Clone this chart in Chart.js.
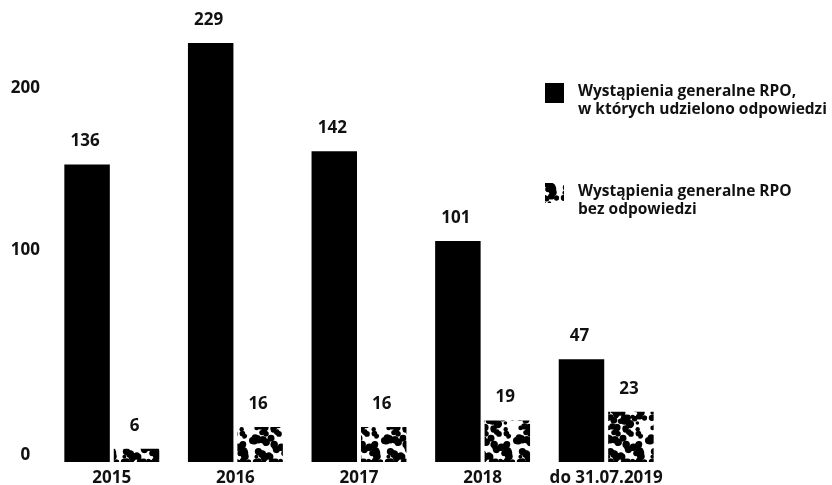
<!DOCTYPE html>
<html lang="pl">
<head>
<meta charset="UTF-8">
<meta name="viewport" content="width=device-width, initial-scale=1.0">
<title>Wystąpienia generalne RPO</title>
<script src="https://cdn.jsdelivr.net/npm/chart.js"></script>
<style>
  body { margin: 0; background: #fff; }
  #wrap { width: 832px; height: 485px; position: relative; }
</style>
</head>
<body>
<div id="wrap"><canvas id="rpoChart"></canvas></div>
<script>
// categories and values
const years = ['2015', '2016', '2017', '2018', 'do 31.07.2019'];
const answered = [136, 229, 142, 101, 47];
const unanswered = [6, 16, 16, 19, 23];
const answeredLines = ['Wystąpienia generalne RPO,', 'w których udzielono odpowiedzi'];
const unansweredLines = ['Wystąpienia generalne RPO', 'bez odpowiedzi'];
// y labels and the values where they sit in the original (axis is broken above)
const yTickLabels = ['0', '100', '200'];
const yTickValues = [3, 97, 171];

const FONT = '"Open Sans", "DejaVu Sans", sans-serif';
const INK = '#111';

const ctx = document.getElementById('rpoChart').getContext('2d');

// black dots on white, like the second series in the original
function makeDots() {
    const size = 44;
    const c = document.createElement('canvas');
    c.width = size; c.height = size;
    const g = c.getContext('2d');
    g.fillStyle = '#fff';
    g.fillRect(0, 0, size, size);
    g.fillStyle = '#000';
    let s = 11;
    const rnd = () => { s = (s * 16807) % 2147483647; return s / 2147483647; };
    for (let i = 0; i < 62; i++) {
        const x = rnd() * size, y = rnd() * size, r = 1.8 + rnd() * 2.4;
        for (const dx of [-size, 0, size]) {
            for (const dy of [-size, 0, size]) {
                g.beginPath();
                g.arc(x + dx, y + dy, r, 0, Math.PI * 2);
                g.fill();
            }
        }
    }
    return ctx.createPattern(c, 'repeat');
}
const dots = makeDots();

// numbers above the bars
const valueLabels = {
    id: 'valueLabels',
    afterDatasetsDraw(chart) {
        const g = chart.ctx;
        const top = chart.chartArea.top;
        g.save();
        g.font = 'bold 17px ' + FONT;
        g.fillStyle = INK;
        g.textAlign = 'center';
        g.textBaseline = 'middle';
        chart.data.datasets.forEach((ds, i) => {
            chart.getDatasetMeta(i).data.forEach((bar, j) => {
                g.fillText(String(ds.data[j]), bar.x - 2, Math.max(bar.y, top) - 23);
            });
        });
        g.restore();
    }
};

// two-line legend on the right
const sideLegend = {
    id: 'sideLegend',
    afterDraw(chart) {
        const g = chart.ctx;
        const x = 545, tops = [83, 183];
        g.save();
        g.font = 'bold 15.5px ' + FONT;
        g.textAlign = 'left';
        g.textBaseline = 'middle';
        chart.data.datasets.forEach((ds, i) => {
            g.fillStyle = ds.backgroundColor;
            g.fillRect(x, tops[i], 19, 20);
            g.fillStyle = INK;
            ds.legendLines.forEach((line, k) => {
                g.fillText(line, x + 33, tops[i] + 9 + k * 18);
            });
        });
        g.restore();
    }
};

new Chart(ctx, {
    type: 'bar',
    data: {
        labels: years,
        datasets: [{
            label: answeredLines.join(' '),
            legendLines: answeredLines,
            data: answered,
            backgroundColor: '#000',
            categoryPercentage: 0.8,
            barPercentage: 0.92,
            clip: 0
        }, {
            label: unansweredLines.join(' '),
            legendLines: unansweredLines,
            data: unanswered,
            backgroundColor: dots,
            categoryPercentage: 0.8,
            barPercentage: 0.92,
            clip: 0
        }]
    },
    options: {
        responsive: true,
        maintainAspectRatio: false,
        animation: false,
        layout: { padding: { top: 43, right: 164, left: 0, bottom: 0 } },
        plugins: {
            legend: { display: false },
            tooltip: { enabled: false }
        },
        scales: {
            x: {
                grid: { display: false, drawTicks: false },
                border: { display: false },
                ticks: { color: INK, padding: 6, font: { family: FONT, size: 17, weight: 'bold' } },
                afterFit: s => { s.height = 23; }
            },
            y: {
                min: 0,
                max: 191.5,
                grid: { display: false, drawTicks: false },
                border: { display: false },
                afterBuildTicks: s => { s.ticks = yTickValues.map(v => ({ value: v })); },
                ticks: {
                    color: INK,
                    padding: 10,
                    crossAlign: 'center',
                    autoSkip: false,
                    font: { family: FONT, size: 17, weight: 'bold' },
                    callback: (v, i) => yTickLabels[i]
                },
                afterFit: s => { s.width = 50; }
            }
        }
    },
    plugins: [valueLabels, sideLegend]
});
</script>
</body>
</html>
